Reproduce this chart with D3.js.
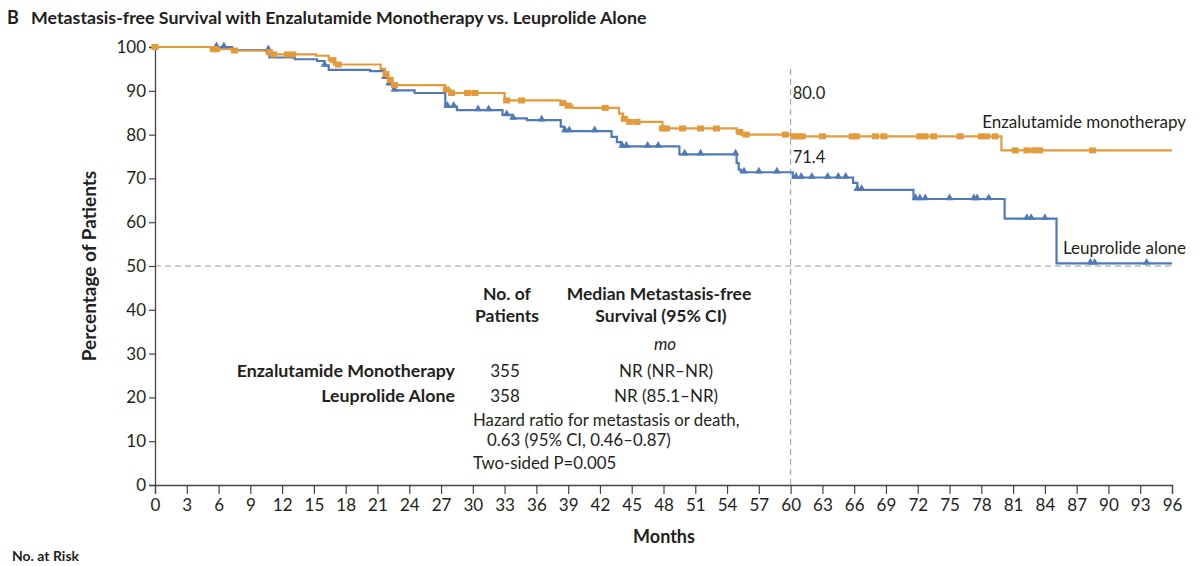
<!DOCTYPE html>
<html>
<head>
<meta charset="utf-8">
<script src="https://cdn.jsdelivr.net/npm/d3@7"></script>
<style>
  html, body { margin: 0; padding: 0; background: #fff; }
  svg { display: block; font-family: Lato, "Open Sans", sans-serif; }
</style>
</head>
<body>
<svg id="chart" width="1200" height="566"></svg>
<script>
// ---------------- DATA ----------------
const xTicks = [0,3,6,9,12,15,18,21,24,27,30,33,36,39,42,45,48,51,54,57,60,63,66,69,72,75,78,81,84,87,90,93,96];
const yTicks = [0,10,20,30,40,50,60,70,80,90,100];

// Enzalutamide monotherapy: step times (months) and survival (%) after each step
const enzaTimes = [0, 5.5, 7.5, 10.5, 11.0, 15.2, 16.4, 16.9, 21.3, 21.7, 22.0, 22.4, 27.4, 27.9, 33.0, 38.3, 38.8, 39.4, 43.8, 44.2, 44.6, 47.9, 54.9, 55.3, 60.1, 79.9];
const enzaSurv  = [100, 99.5, 99.2, 98.8, 98.3, 98.0, 97.0, 96.0, 95.0, 93.8, 92.5, 91.3, 90.3, 89.5, 87.8, 87.2, 86.6, 86.1, 84.8, 83.6, 82.9, 81.4, 80.6, 80.0, 79.6, 76.4];
const enzaCensor = [0, 5.5, 5.8, 7.5, 10.8, 11.2, 12.5, 13.0, 16.8, 17.3, 21.8, 22.2, 22.6, 27.5, 28.0, 29.5, 30.2, 33.2, 34.6, 38.5, 39.0, 42.5, 44.3, 44.8, 45.5, 47.9, 48.3, 49.8, 51.5, 53.0, 55.2, 55.8, 59.5, 60.3, 60.7, 61.1, 63.0, 65.8, 66.2, 68.0, 68.8, 72.2, 72.7, 73.5, 76.0, 78.0, 78.5, 79.3, 81.2, 82.3, 83.0, 83.5, 88.5];

// Leuprolide alone
const leuTimes = [0, 7.3, 10.8, 13.2, 15.3, 16.0, 16.4, 20.3, 21.7, 22.0, 22.5, 24.5, 27.4, 28.5, 32.8, 33.7, 35.1, 38.3, 38.6, 43.1, 43.6, 44.0, 49.5, 54.9, 55.1, 55.3, 60.2, 65.9, 66.3, 71.6, 80.2, 85.1];
const leuSurv  = [100, 99.3, 97.6, 97.2, 96.8, 95.8, 94.8, 94.5, 93.0, 91.5, 90.1, 89.5, 86.4, 85.6, 84.5, 83.7, 83.3, 81.8, 80.8, 79.5, 78.3, 77.3, 75.5, 73.5, 72.0, 71.4, 70.2, 69.0, 67.4, 65.3, 60.8, 50.6];
const leuCensor = [5.8, 6.5, 10.7, 16.0, 21.7, 22.1, 22.6, 27.6, 28.2, 30.5, 31.5, 33.2, 33.8, 36.5, 38.7, 39.1, 41.5, 44.1, 44.5, 46.5, 47.5, 50.0, 51.5, 54.8, 55.6, 57.0, 58.7, 60.5, 61.0, 62.0, 63.5, 64.5, 65.2, 66.3, 66.7, 71.8, 72.2, 72.7, 75.0, 77.3, 77.6, 78.7, 82.3, 82.7, 84.0, 88.3, 88.7, 93.6];

const maxTime = 96;
const landmarkTime = 60;
const landmarkEnza = "80.0";
const landmarkLeu = "71.4";
const medianLine = 50;

// ---------------- LAYOUT ----------------
const svg = d3.select("#chart");
const mLeft = 155, mRight = 1172, mTop = 47, mBottom = 485;
const x = d3.scaleLinear().domain([0, 96]).range([mLeft, mRight]);
const y = d3.scaleLinear().domain([0, 100]).range([mBottom, mTop]);

const orange = "#E39A3A";
const blue = "#4F79B9";
const ink = "#231f20";
const fs = 16.5;

// Title
svg.append("text").attr("x", 7).attr("y", 24)
  .attr("font-size", 18).attr("font-weight", 700).attr("fill", ink)
  .text("B");
svg.append("text").attr("x", 31).attr("y", 24)
  .attr("font-size", 17.8).attr("font-weight", 700).attr("fill", ink)
  .text("Metastasis-free Survival with Enzalutamide Monotherapy vs. Leuprolide Alone");

// Reference dashed lines
svg.append("line")
  .attr("x1", x(0)).attr("x2", x(maxTime))
  .attr("y1", y(medianLine)).attr("y2", y(medianLine))
  .attr("stroke", "#9a9a9a").attr("stroke-width", 1).attr("stroke-dasharray", "6,4");
svg.append("line")
  .attr("x1", x(landmarkTime)).attr("x2", x(landmarkTime))
  .attr("y1", y(95)).attr("y2", y(0))
  .attr("stroke", "#9a9a9a").attr("stroke-width", 1).attr("stroke-dasharray", "6,4");

// Axes
const yAxis = d3.axisLeft(y).tickValues(yTicks).tickSize(6).tickPadding(3);
const xAxis = d3.axisBottom(x).tickValues(xTicks).tickSize(9).tickPadding(5);

const gy = svg.append("g").attr("transform", `translate(${mLeft},0)`).call(yAxis);
const gx = svg.append("g").attr("transform", `translate(0,${mBottom})`).call(xAxis);
[gx, gy].forEach(g => {
  g.select(".domain").attr("stroke", "#444").attr("stroke-width", 1.3);
  g.selectAll(".tick line").attr("stroke", "#444").attr("stroke-width", 1.2);
  g.selectAll(".tick text").attr("font-size", 17).attr("fill", ink)
    .attr("font-family", "Lato, sans-serif");
});

// Axis titles
svg.append("text")
  .attr("transform", `translate(96,${y(50)}) rotate(-90)`)
  .attr("text-anchor", "middle").attr("font-size", 19).attr("font-weight", 700).attr("fill", ink)
  .text("Percentage of Patients");
svg.append("text").attr("x", 664).attr("y", 543)
  .attr("text-anchor", "middle").attr("font-size", 18).attr("font-weight", 700).attr("fill", ink)
  .text("Months");

// Step function helpers
function stepData(times, surv) {
  const d = times.map((t, i) => ({t, s: surv[i]}));
  d.push({t: maxTime, s: surv[surv.length - 1]});
  return d;
}
function survAt(times, surv, t) {
  let s = surv[0];
  for (let i = 0; i < times.length; i++) { if (times[i] <= t) s = surv[i]; }
  return s;
}
const line = d3.line().x(d => x(d.t)).y(d => y(d.s)).curve(d3.curveStepAfter);

// Curves
svg.append("path").datum(stepData(leuTimes, leuSurv))
  .attr("d", line).attr("fill", "none").attr("stroke", blue).attr("stroke-width", 2.2);
svg.append("path").datum(stepData(enzaTimes, enzaSurv))
  .attr("d", line).attr("fill", "none").attr("stroke", orange).attr("stroke-width", 2.2);

// Censor marks
const tri = d3.symbol().type(d3.symbolTriangle).size(26);
svg.append("g").selectAll("path").data(leuCensor).join("path")
  .attr("d", tri)
  .attr("transform", d => `translate(${x(d)},${y(survAt(leuTimes, leuSurv, d)) - 1})`)
  .attr("fill", blue);
svg.append("g").selectAll("rect").data(enzaCensor).join("rect")
  .attr("x", d => x(d) - 3.5).attr("y", d => y(survAt(enzaTimes, enzaSurv, d)) - 3)
  .attr("width", 7).attr("height", 6)
  .attr("fill", orange);

// Landmark labels
svg.append("text").attr("x", x(landmarkTime) + 2).attr("y", 99)
  .attr("font-size", fs).attr("fill", ink).text(landmarkEnza);
svg.append("text").attr("x", x(landmarkTime) + 2).attr("y", 163)
  .attr("font-size", fs).attr("fill", ink).text(landmarkLeu);

// Curve labels
svg.append("text").attr("x", 1186).attr("y", 128).attr("text-anchor", "end")
  .attr("font-size", 17).attr("fill", ink).text("Enzalutamide monotherapy");
svg.append("text").attr("x", 1186).attr("y", 254).attr("text-anchor", "end")
  .attr("font-size", 17).attr("fill", ink).text("Leuprolide alone");

// Inset table
const tbl = svg.append("g").attr("font-size", 17).attr("fill", ink);
const t = (xx, yy, s, anchor, weight, style, size) => tbl.append("text")
  .attr("x", xx).attr("y", yy).attr("text-anchor", anchor || "start")
  .attr("font-size", size || 17)
  .attr("font-weight", weight || 400).attr("font-style", style || "normal").text(s);
t(507, 300, "No. of", "middle", 700, null, 17.5);
t(507, 322, "Patients", "middle", 700, null, 17.5);
t(659, 300, "Median Metastasis-free", "middle", 700, null, 17.5);
t(661, 322, "Survival (95% CI)", "middle", 700, null, 17.5);
t(665, 350, "mo", "middle", 400, "italic");
t(455, 377, "Enzalutamide Monotherapy", "end", 700, null, 17.8);
t(455, 402, "Leuprolide Alone", "end", 700, null, 17.8);
t(505, 377, "355", "middle");
t(505, 402, "358", "middle");
t(666, 377, "NR (NR\u2013NR)", "middle");
t(666, 402, "NR (85.1\u2013NR)", "middle");
t(473, 426, "Hazard ratio for metastasis or death,", null, 400, null, 16.8);
t(487, 446, "0.63 (95% CI, 0.46\u20130.87)", null, 400, null, 16.8);
t(473, 469, "Two-sided P=0.005", null, 400, null, 16.8);

// "No. at Risk" heading (partially visible at bottom in reference)
svg.append("text").attr("x", 12).attr("y", 561)
  .attr("font-size", 14).attr("font-weight", 700).attr("fill", ink).text("No. at Risk");
</script>
</body>
</html>
